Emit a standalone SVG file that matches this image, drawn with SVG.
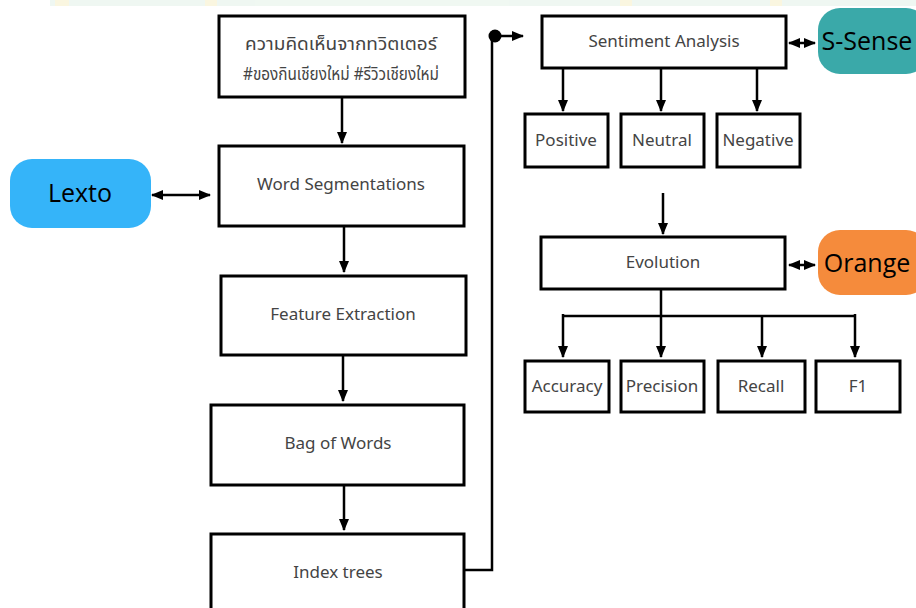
<svg xmlns="http://www.w3.org/2000/svg" width="916" height="608" viewBox="0 0 916 608">
<defs>
<marker id="ah" markerUnits="userSpaceOnUse" markerWidth="12" markerHeight="12" viewBox="0 0 12 12" refX="11" refY="6" orient="auto-start-reverse">
<path d="M0,1 L12,6 L0,11 Z" fill="#000"/>
</marker>
<marker id="dot" markerUnits="userSpaceOnUse" markerWidth="14" markerHeight="14" viewBox="0 0 14 14" refX="7" refY="7">
<circle cx="7" cy="7" r="6.5" fill="#000"/>
</marker>
</defs>
<style>
.box{fill:#fff;stroke:#000;stroke-width:3}
.lbl{font-family:"Noto Sans Thai","Noto Sans","DejaVu Sans",sans-serif;font-size:17px;fill:#444;text-anchor:middle;dominant-baseline:central}
.th{font-size:18px}
.tool{font-family:"Open Sans","Noto Sans",sans-serif;font-size:25px;fill:#000;text-anchor:middle;dominant-baseline:central}
.con{fill:none;stroke:#000;stroke-width:2.5}
.arr{marker-end:url(#ah)}
.dbl{marker-start:url(#ah);marker-end:url(#ah)}
</style>
<rect width="916" height="608" fill="#fff"/>
<g id="watermark" opacity="0.35">
<rect x="50" y="0" width="900" height="6" fill="#d3eadb"/>
<rect x="55" y="0" width="14" height="6" fill="#f3e7a8"/>
<rect x="205" y="0" width="12" height="6" fill="#f3e7a8"/>
<rect x="620" y="0" width="12" height="6" fill="#f3e7a8"/>
<rect x="770" y="0" width="12" height="6" fill="#f3e7a8"/>
</g>
<g id="connectors">
<line class="con arr" x1="342" y1="97" x2="342" y2="143"/>
<line class="con dbl" x1="152" y1="195" x2="210" y2="195"/>
<line class="con arr" x1="344" y1="227" x2="344" y2="272"/>
<line class="con arr" x1="343" y1="356" x2="343" y2="401"/>
<line class="con arr" x1="344" y1="486" x2="344" y2="530"/>
<polyline class="con" points="464,570 492,570 492,38"/>
<line class="con arr" x1="495" y1="36" x2="523" y2="36" marker-start="url(#dot)"/>
<line class="con dbl" x1="789" y1="43" x2="815" y2="43"/>
<line class="con arr" x1="563" y1="68" x2="563" y2="111"/>
<line class="con arr" x1="661" y1="68" x2="661" y2="111"/>
<line class="con arr" x1="757" y1="68" x2="757" y2="111"/>
<line class="con arr" x1="663" y1="193" x2="663" y2="234"/>
<line class="con dbl" x1="789" y1="265" x2="815" y2="265"/>
<line class="con arr" x1="661" y1="290" x2="661" y2="357"/>
<line class="con" x1="563" y1="316" x2="855" y2="316"/>
<line class="con arr" x1="563" y1="314" x2="563" y2="357"/>
<line class="con arr" x1="762" y1="316" x2="762" y2="357"/>
<line class="con arr" x1="855" y1="314" x2="855" y2="357"/>
</g>
<g id="n_tweets">
<rect class="box" x="219" y="16" width="246" height="81"/>
<text class="lbl th" x="341" y="44" textLength="192" lengthAdjust="spacingAndGlyphs">ความคิดเห็นจากทวิตเตอร์</text>
<text class="lbl th" x="341" y="74" textLength="196" lengthAdjust="spacingAndGlyphs">#ของกินเชียงใหม่ #รีวิวเชียงใหม่</text>
</g>
<g id="n_wordseg">
<rect class="box" x="219" y="146" width="245" height="80"/>
<text class="lbl" x="341" y="185">Word Segmentations</text>
</g>
<g id="n_lexto">
<rect x="10" y="159" width="141" height="69" rx="22" fill="#35b4f9"/>
<text class="tool" x="80" y="192">Lexto</text>
</g>
<g id="n_feature">
<rect class="box" x="221" y="276" width="245" height="79"/>
<text class="lbl" x="343" y="315">Feature Extraction</text>
</g>
<g id="n_bow">
<rect class="box" x="211" y="405" width="253" height="80"/>
<text class="lbl" x="338" y="444">Bag of Words</text>
</g>
<g id="n_index">
<rect class="box" x="211" y="534" width="253" height="80"/>
<text class="lbl" x="338" y="573">Index trees</text>
</g>
<g id="n_sentiment">
<rect class="box" x="542" y="16" width="244" height="52"/>
<text class="lbl" x="664" y="42">Sentiment Analysis</text>
</g>
<g id="n_ssense">
<rect x="818" y="8" width="110" height="66" rx="22" fill="#3aa9a9"/>
<text class="tool" x="867" y="40">S-Sense</text>
</g>
<g id="n_positive">
<rect class="box" x="525" y="114" width="83" height="53"/>
<text class="lbl" x="566" y="141">Positive</text>
</g>
<g id="n_neutral">
<rect class="box" x="621" y="114" width="83" height="53"/>
<text class="lbl" x="662" y="141">Neutral</text>
</g>
<g id="n_negative">
<rect class="box" x="717" y="114" width="83" height="53"/>
<text class="lbl" x="758" y="141">Negative</text>
</g>
<g id="n_evolution">
<rect class="box" x="541" y="237" width="244" height="52"/>
<text class="lbl" x="663" y="263">Evolution</text>
</g>
<g id="n_orange">
<rect x="818" y="230" width="110" height="65" rx="22" fill="#f58b3c"/>
<text class="tool" x="867" y="262">Orange</text>
</g>
<g id="n_accuracy">
<rect class="box" x="525" y="361" width="84" height="51"/>
<text class="lbl" x="567" y="387">Accuracy</text>
</g>
<g id="n_precision">
<rect class="box" x="621" y="361" width="83" height="51"/>
<text class="lbl" x="662" y="387">Precision</text>
</g>
<g id="n_recall">
<rect class="box" x="718" y="361" width="87" height="51"/>
<text class="lbl" x="761" y="387">Recall</text>
</g>
<g id="n_f1">
<rect class="box" x="816" y="361" width="84" height="51"/>
<text class="lbl" x="858" y="387">F1</text>
</g>
</svg>
